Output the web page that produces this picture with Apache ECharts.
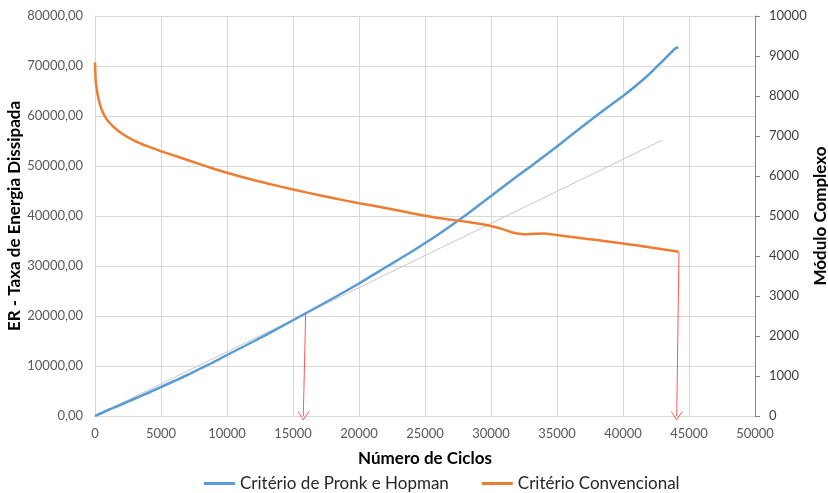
<!DOCTYPE html>
<html>
<head>
<meta charset="utf-8">
<script src="https://cdn.jsdelivr.net/npm/echarts@6/dist/echarts.min.js"></script>
<style>
  html, body { margin: 0; padding: 0; background: #fff; }
  #chart { width: 828px; height: 493px; }
</style>
</head>
<body>
<div id="chart"></div>
<script>
// Number of cycles sampled along both curves
const cycles = [0, 50, 100, 250, 500, 750, 1000, 1500, 2000, 3000, 4000, 5000, 6000, 7000, 8000, 9000,
  10000, 12000, 14000, 16000, 18000, 20000, 22000, 24000, 26000, 28000, 29000, 30000, 31000, 31500, 32000,
  32500, 33000, 34000, 35000, 36000, 38000, 40000, 41000, 42000, 43000, 44000, 44200];

// ER - dissipated energy ratio (left axis)
const energyRatio = [0, 60, 120, 300, 600, 900, 1200, 1750, 2300, 3450, 4600, 5800, 7000, 8200, 9500, 10800,
  12200, 14900, 17700, 20600, 23500, 26500, 29700, 32900, 36300, 40000, 42000, 44000, 46000, 47000, 48000,
  48950, 49900, 51900, 53900, 56000, 60100, 64000, 66100, 68400, 71000, 73600, 73700];

// Complex modulus (right axis)
const complexModulus = [8840, 8400, 8250, 7950, 7660, 7490, 7370, 7200, 7070, 6880, 6740, 6620, 6510, 6400, 6290, 6180,
  6080, 5900, 5740, 5590, 5450, 5320, 5200, 5070, 4950, 4860, 4810, 4750, 4660, 4600, 4560,
  4545, 4550, 4565, 4525, 4480, 4400, 4310, 4270, 4220, 4170, 4120, 4110];

// Straight reference line through the origin
const tangentLine = [[0, 0], [43000, 55200]];

// Arrows pointing to the failure cycles (start point, end point) in left-axis units
const arrowPronk = [[15960, 20540], [15780, 0]];
const arrowConventional = [[44240, 32880], [44070, 0]];

// Axis ranges and tick steps
const xMax = 50000, xStep = 5000;
const leftMax = 80000, leftStep = 10000;
const rightMax = 10000, rightStep = 1000;

const seriesNames = ['Critério de Pronk e Hopman', 'Critério Convencional'];

const font = 'Lato, "Open Sans", "Liberation Sans", sans-serif';
const arrowHead = 'path://M0,10 L5,0 L10,10 L9.2,10 L5,1.8 L0.8,10 Z';

const chart = echarts.init(document.getElementById('chart'), null, { renderer: 'canvas' });

chart.setOption({
  animation: false,
  backgroundColor: '#ffffff',
  textStyle: { fontFamily: font },
  grid: { left: 95, right: 73, top: 16, bottom: 77, containLabel: false, outerBoundsMode: 'none' },
  legend: {
    data: seriesNames,
    bottom: -4,
    left: 199,
    icon: 'rect',
    itemWidth: 31,
    itemHeight: 3,
    itemGap: 33,
    textStyle: { fontFamily: font, fontSize: 17, color: '#262626' }
  },
  xAxis: {
    type: 'value',
    min: 0, max: xMax, interval: xStep,
    name: 'Número de Ciclos',
    nameLocation: 'middle',
    nameGap: 34,
    nameMoveOverlap: false,
    nameTextStyle: { fontFamily: font, fontSize: 17, fontWeight: 'bold', color: '#000' },
    axisLine: { show: true, lineStyle: { color: '#d9d9d9', width: 1 } },
    axisTick: { show: false },
    axisLabel: { color: '#595959', fontSize: 13, margin: 11, formatter: v => String(v) },
    splitLine: { show: true, lineStyle: { color: '#d9d9d9', width: 1 } }
  },
  yAxis: [{
    type: 'value',
    min: 0, max: leftMax, interval: leftStep,
    name: 'ER - Taxa de Energia Dissipada',
    nameLocation: 'middle',
    nameGap: 72,
    nameMoveOverlap: false,
    nameTextStyle: { fontFamily: font, fontSize: 17, fontWeight: 'bold', color: '#000' },
    axisLine: { show: true, lineStyle: { color: '#d9d9d9', width: 1 } },
    axisTick: { show: false },
    axisLabel: {
      color: '#595959', fontSize: 13, margin: 12,
      formatter: v => v.toFixed(2).replace('.', ',')
    },
    splitLine: { show: true, lineStyle: { color: '#d9d9d9', width: 1 } }
  }, {
    type: 'value',
    position: 'right',
    min: 0, max: rightMax, interval: rightStep,
    name: 'Módulo Complexo',
    nameLocation: 'middle',
    nameGap: 57,
    nameMoveOverlap: false,
    nameTextStyle: { fontFamily: font, fontSize: 17, fontWeight: 'bold', color: '#000' },
    axisLine: { show: true, lineStyle: { color: '#868686', width: 1 } },
    axisTick: { show: true, inside: false, length: 5, lineStyle: { color: '#868686' } },
    axisLabel: { color: '#404040', fontSize: 13, margin: 14, formatter: v => String(v) },
    splitLine: { show: false }
  }],
  series: [{
    name: 'reference',
    type: 'line',
    data: tangentLine,
    yAxisIndex: 0,
    symbol: 'none',
    silent: true,
    lineStyle: { color: '#c8c8c8', width: 1 },
    z: 1
  }, {
    name: seriesNames[0],
    type: 'line',
    data: cycles.map((c, i) => [c, energyRatio[i]]),
    yAxisIndex: 0,
    symbol: 'none',
    smooth: 0.2,
    color: '#5B9BD5',
    lineStyle: { color: '#5B9BD5', width: 2.5 },
    z: 3
  }, {
    name: seriesNames[1],
    type: 'line',
    data: cycles.map((c, i) => [c, complexModulus[i]]),
    yAxisIndex: 1,
    symbol: 'none',
    smooth: 0.2,
    color: '#ED7D31',
    lineStyle: { color: '#ED7D31', width: 2.5 },
    z: 3
  }, {
    name: 'arrows',
    type: 'line',
    data: [],
    yAxisIndex: 0,
    silent: true,
    markLine: {
      silent: true,
      animation: false,
      symbol: ['none', arrowHead],
      symbolSize: [12, 9],
      label: { show: false },
      lineStyle: { color: '#ff3b3b', width: 1, type: 'solid', opacity: 0.85 },
      emphasis: { disabled: true },
      data: [
        [{ coord: arrowPronk[0] }, { coord: arrowPronk[1] }],
        [{ coord: arrowConventional[0] }, { coord: arrowConventional[1] }]
      ]
    },
    z: 5
  }]
});
</script>
</body>
</html>
